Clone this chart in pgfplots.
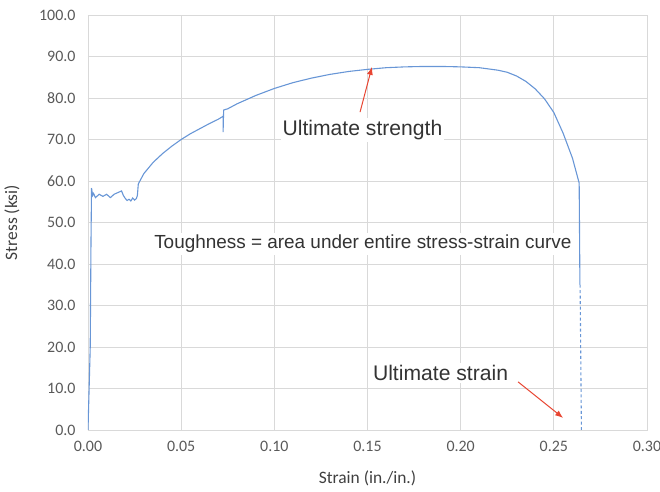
\documentclass[border=0pt]{standalone}
\usepackage{fontspec}
\setmainfont{Carlito}
\newfontfamily\arialfont{Liberation Sans}
\usepackage{pgfplots}
\pgfplotsset{compat=1.18}
\usetikzlibrary{arrows.meta}
\definecolor{curveblue}{RGB}{104,150,214}
\definecolor{gridgray}{RGB}{217,217,217}
\definecolor{ticktext}{RGB}{89,89,89}
\definecolor{labeltext}{RGB}{64,64,64}
\definecolor{arrowred}{RGB}{232,70,50}
\begin{document}
\begin{tikzpicture}
  \begin{axis}[
    at={(0,0)}, anchor=south west,
    scale only axis,
    width=559bp, height=415bp,
    xmin=0, xmax=0.30, ymin=0, ymax=100,
    xtick={0,0.05,...,0.30},
    ytick={0,10,...,100},
    grid=major,
    major grid style={gridgray, line width=0.8pt},
    axis line style={gridgray, line width=0.8pt},
    tick style={draw=none},
    /pgf/number format/assume math mode=true,
    ticklabel style={font=\fontsize{16}{18}\selectfont, text=ticktext},
    xticklabel style={yshift=-8bp, /pgf/number format/.cd, fixed, fixed zerofill, precision=2},
    yticklabel style={xshift=-9bp, /pgf/number format/.cd, fixed, fixed zerofill, precision=1},
    scaled x ticks=false,
    xlabel={Strain (in./in.)},
    ylabel={Stress (ksi)},
    every axis x label/.style={at={(axis description cs:0.5,0)}, anchor=center, yshift=-48bp,
      font=\fontsize{17.5}{20}\selectfont, text=labeltext},
    every axis y label/.style={at={(axis description cs:0,0.5)}, anchor=center, xshift=-76bp, rotate=90,
      font=\fontsize{17.5}{20}\selectfont, text=labeltext},
  ]
  % measured curve
  \addplot[curveblue, line width=1.1pt] coordinates {
    (0,0) (0.0012,20) (0.0016,45) (0.0019,58.3) (0.0025,56.5) (0.003,57.0)
    (0.004,56.0) (0.006,56.8) (0.008,56.3) (0.010,56.8) (0.012,56.0)
    (0.014,56.8) (0.016,57.2) (0.018,57.6) (0.019,56.5) (0.020,55.8)
    (0.021,55.3) (0.022,55.6) (0.023,55.2) (0.024,55.9) (0.025,55.4)
    (0.026,55.8) (0.0265,56.5) (0.027,59.3) (0.030,61.8) (0.035,64.5)
    (0.040,66.6) (0.045,68.4) (0.050,70.0) (0.055,71.4) (0.060,72.6)
    (0.065,73.8) (0.070,74.9) (0.0725,75.6) (0.0725,71.8) (0.0728,77.1)
    (0.075,77.4) (0.080,78.6) (0.090,80.6) (0.100,82.3) (0.110,83.7)
    (0.120,84.8) (0.130,85.7) (0.140,86.4) (0.150,86.9) (0.160,87.3)
    (0.170,87.5) (0.180,87.6) (0.190,87.6) (0.200,87.5) (0.210,87.3)
    (0.220,86.7) (0.225,86.2) (0.230,85.3) (0.235,84.0) (0.240,82.2)
    (0.245,79.8) (0.250,76.5) (0.255,71.5) (0.260,65.5) (0.2636,59.5)
    (0.2640,35.0)
  };
  % extrapolated to fracture
  \addplot[curveblue, line width=1.1pt, dash pattern=on 3pt off 2.5pt] coordinates {
    (0.2641,35.0) (0.2648,0)
  };
  % annotations
  \node[fill=white, inner sep=2bp, font=\arialfont\fontsize{21.2}{24}\selectfont, text=black!80]
    at (axis cs:0.1473,72.3) {Ultimate strength};
  \draw[-{Latex[length=8bp,width=6bp]}, arrowred, line width=1pt] (axis cs:0.146,76.6) -- (axis cs:0.1524,87.5);
  \node[fill=white, inner sep=2bp, font=\arialfont\fontsize{19}{22}\selectfont, text=black!80]
    at (axis cs:0.1475,44.8) {Toughness = area under entire stress-strain curve};
  \node[fill=white, inner sep=2bp, font=\arialfont\fontsize{21.2}{24}\selectfont, text=black!80]
    at (axis cs:0.1892,13.7) {Ultimate strain};
  \draw[-{Latex[length=8bp,width=6bp]}, arrowred, line width=1pt] (axis cs:0.2308,11.6) -- (axis cs:0.255,2.9);
  \end{axis}
  \pgfresetboundingbox
  \path (-88bp,-62bp) rectangle (572bp,430bp);
\end{tikzpicture}
\end{document}
